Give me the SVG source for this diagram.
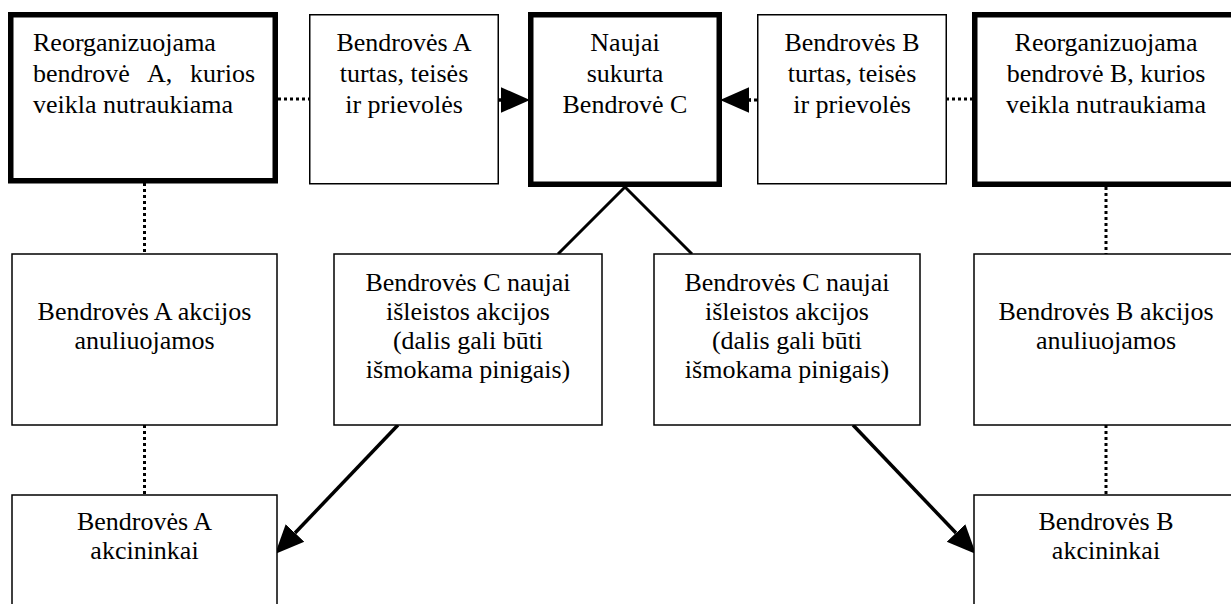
<svg xmlns="http://www.w3.org/2000/svg" width="1231" height="604" viewBox="0 0 1231 604">
<style>
.thick{fill:#fff;stroke:#000;stroke-width:5.5}
.thin{fill:#fff;stroke:#000;stroke-width:1.5}
.t{font-family:'Liberation Serif','Times New Roman',serif;font-size:26px;fill:#000}
.c{text-anchor:middle}
.dot{stroke:#000;stroke-width:3;stroke-dasharray:3 3;fill:none}
.solid{stroke:#000;stroke-width:3;fill:none}
.arr{stroke:#000;stroke-width:3.5;fill:none;marker-end:url(#ah)}
</style>
<defs>
<marker id="ah" markerUnits="userSpaceOnUse" markerWidth="30" markerHeight="30" viewBox="0 -13 28 26" refX="0" refY="0" orient="auto">
<path d="M0,-12 L27,0 L0,12 Z" fill="#000"/>
</marker>
</defs>
<rect width="1231" height="604" fill="#fff"/>
<g id="connectors">
<line class="dot" x1="278" y1="99" x2="309" y2="99"/>
<line class="dot" x1="946" y1="99" x2="972" y2="99"/>
<line class="dot" x1="757" y1="100" x2="750" y2="100"/>
<line class="arr" x1="499" y1="100" x2="501" y2="100"/>
<line class="arr" x1="751" y1="100" x2="749" y2="100"/>
<line class="dot" x1="144.5" y1="183" x2="144.5" y2="254"/>
<line class="dot" x1="144.5" y1="425" x2="144.5" y2="495"/>
<line class="dot" x1="1106" y1="187" x2="1106" y2="254"/>
<line class="dot" x1="1106" y1="425" x2="1106" y2="495"/>
<line class="solid" x1="625" y1="187" x2="558" y2="254"/>
<line class="solid" x1="625" y1="187" x2="692" y2="254"/>
<line class="arr" x1="398" y1="425" x2="295" y2="533"/>
<line class="arr" x1="853" y1="425" x2="956" y2="533"/>
</g>
<g id="node-a" class="t">
<rect class="thick" x="10.75" y="14.75" width="264.5" height="166"/>
<text x="33" y="51">Reorganizuojama</text>
<text y="82"><tspan x="33">bendrovė</tspan><tspan x="147">A,</tspan><tspan x="190">kurios</tspan></text>
<text x="33" y="113">veikla nutraukiama</text>
</g>
<g id="node-a-assets" class="t">
<rect class="thin" x="309.75" y="14.75" width="188.5" height="169"/>
<text class="c" x="404" y="51">Bendrovės A</text>
<text class="c" x="404" y="82">turtas, teisės</text>
<text class="c" x="404" y="113">ir prievolės</text>
</g>
<g id="node-c" class="t">
<rect class="thick" x="530.75" y="14.75" width="188.5" height="169.5"/>
<text class="c" x="625" y="51">Naujai</text>
<text class="c" x="625" y="82">sukurta</text>
<text class="c" x="625" y="113">Bendrovė C</text>
</g>
<g id="node-b-assets" class="t">
<rect class="thin" x="757.75" y="14.75" width="188.5" height="169"/>
<text class="c" x="852" y="51">Bendrovės B</text>
<text class="c" x="852" y="82">turtas, teisės</text>
<text class="c" x="852" y="113">ir prievolės</text>
</g>
<g id="node-b" class="t">
<rect class="thick" x="974.75" y="14.75" width="266" height="169.5"/>
<text class="c" x="1106" y="51">Reorganizuojama</text>
<text class="c" x="1106" y="82">bendrovė B, kurios</text>
<text class="c" x="1106" y="113">veikla nutraukiama</text>
</g>
<g id="node-a-shares" class="t">
<rect class="thin" x="12" y="254" width="265" height="171"/>
<text class="c" x="144.5" y="320">Bendrovės A akcijos</text>
<text class="c" x="144.5" y="349">anuliuojamos</text>
</g>
<g id="node-c-shares-a" class="t">
<rect class="thin" x="334" y="254" width="268" height="171"/>
<text class="c" x="468" y="291">Bendrovės C naujai</text>
<text class="c" x="468" y="320">išleistos akcijos</text>
<text class="c" x="468" y="349">(dalis gali būti</text>
<text class="c" x="468" y="378">išmokama pinigais)</text>
</g>
<g id="node-c-shares-b" class="t">
<rect class="thin" x="654" y="254" width="266" height="171"/>
<text class="c" x="787" y="291">Bendrovės C naujai</text>
<text class="c" x="787" y="320">išleistos akcijos</text>
<text class="c" x="787" y="349">(dalis gali būti</text>
<text class="c" x="787" y="378">išmokama pinigais)</text>
</g>
<g id="node-b-shares" class="t">
<rect class="thin" x="974" y="254" width="266" height="171"/>
<text class="c" x="1106" y="320">Bendrovės B akcijos</text>
<text class="c" x="1106" y="349">anuliuojamos</text>
</g>
<g id="node-a-holders" class="t">
<rect class="thin" x="12" y="495" width="265" height="120"/>
<text class="c" x="144.5" y="530">Bendrovės A</text>
<text class="c" x="144.5" y="559">akcininkai</text>
</g>
<g id="node-b-holders" class="t">
<rect class="thin" x="974" y="495" width="266" height="120"/>
<text class="c" x="1106" y="530">Bendrovės B</text>
<text class="c" x="1106" y="559">akcininkai</text>
</g>
</svg>
